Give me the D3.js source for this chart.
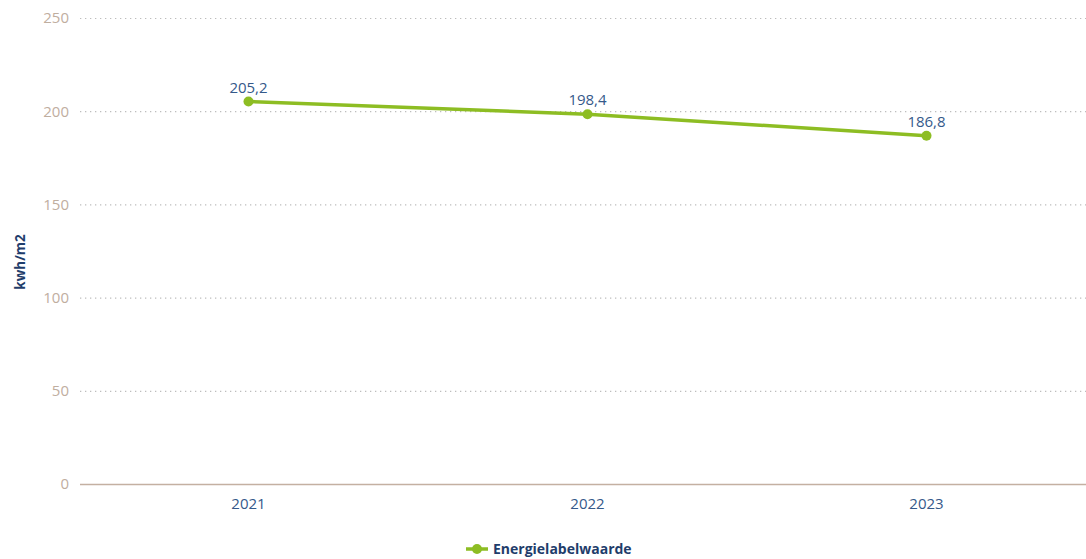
<!DOCTYPE html>
<html>
<head>
<meta charset="utf-8">
<script src="https://cdn.jsdelivr.net/npm/d3@7"></script>
<style>
  body { margin: 0; background: #fff; }
  svg { font-family: "Open Sans", "Noto Sans", sans-serif; display: block; }
</style>
</head>
<body>
<script>
// data
var years = ["2021", "2022", "2023"];
var values = [205.2, 198.4, 186.8];
var yTicks = [0, 50, 100, 150, 200, 250];
var seriesName = "Energielabelwaarde";
var yLabel = "kwh/m2";

var W = 1086, H = 559;
var margin = { top: 18, left: 80, bottom: 75 };
var font = "'Open Sans', 'Noto Sans', sans-serif";

var svg = d3.select("body").append("svg")
  .attr("width", W)
  .attr("height", H);

var x = d3.scaleBand().domain(years).range([79, 1096]);
var y = d3.scaleLinear().domain([0, 250]).range([484, 18]);

var fmt = function (v) { return d3.format(".1f")(v).replace(".", ","); };

// grid lines
var yAxis = d3.axisLeft(y).tickValues(yTicks).tickSize(0).tickPadding(11);
var gy = svg.append("g").attr("transform", "translate(" + margin.left + ",0)").call(yAxis)
  .attr("font-family", font);
gy.select(".domain").remove();
gy.selectAll("text")
  .attr("fill", "#bfae9f")
  .style("font-size", "15px");
gy.selectAll(".tick").append("line")
  .attr("x1", 0)
  .attr("x2", W - margin.left)
  .attr("stroke", function (d) { return d === 0 ? "#c4b0a2" : "#bdbdbd"; })
  .attr("stroke-width", function (d) { return d === 0 ? 1.5 : 1.2; })
  .attr("stroke-dasharray", function (d) { return d === 0 ? null : "1.3,3.7"; });

// x axis
var xAxis = d3.axisBottom(x).tickSize(0).tickPadding(14);
var gx = svg.append("g").attr("transform", "translate(0,484)").call(xAxis)
  .attr("font-family", font);
gx.select(".domain").remove();
gx.selectAll("text")
  .attr("fill", "#35598a")
  .style("font-size", "15px");

// y label
svg.append("text")
  .attr("transform", "translate(25,262) rotate(-90)")
  .attr("text-anchor", "middle")
  .attr("fill", "#1f3d6b")
  .style("font-size", "13.5px")
  .style("font-weight", "bold")
  .text(yLabel);

var pts = years.map(function (d, i) { return { year: d, value: values[i] }; });

var line = d3.line()
  .x(function (d) { return x(d.year) + x.bandwidth() / 2; })
  .y(function (d) { return y(d.value); });

svg.append("path")
  .datum(pts)
  .attr("fill", "none")
  .attr("stroke", "#8dbd23")
  .attr("stroke-width", 3.5)
  .attr("d", line);

svg.selectAll(".dot").data(pts).enter().append("circle")
  .attr("class", "dot")
  .attr("cx", function (d) { return x(d.year) + x.bandwidth() / 2; })
  .attr("cy", function (d) { return y(d.value); })
  .attr("r", 5)
  .attr("fill", "#8dbd23");

svg.selectAll(".lbl").data(pts).enter().append("text")
  .attr("class", "lbl")
  .attr("x", function (d) { return x(d.year) + x.bandwidth() / 2; })
  .attr("y", function (d) { return y(d.value) - 9; })
  .attr("text-anchor", "middle")
  .attr("fill", "#35598a")
  .style("font-size", "15px")
  .text(function (d) { return fmt(d.value); });

// legend
var lg = svg.append("g").attr("transform", "translate(466,549)");
lg.append("line").attr("x1", 0).attr("x2", 22).attr("y1", 0).attr("y2", 0)
  .attr("stroke", "#8dbd23").attr("stroke-width", 3.5);
lg.append("circle").attr("cx", 11).attr("cy", 0).attr("r", 5).attr("fill", "#8dbd23");
lg.append("text").attr("x", 27).attr("y", 5)
  .attr("fill", "#1f3d6b")
  .style("font-size", "14px")
  .style("font-weight", "bold")
  .text(seriesName);
</script>
</body>
</html>
